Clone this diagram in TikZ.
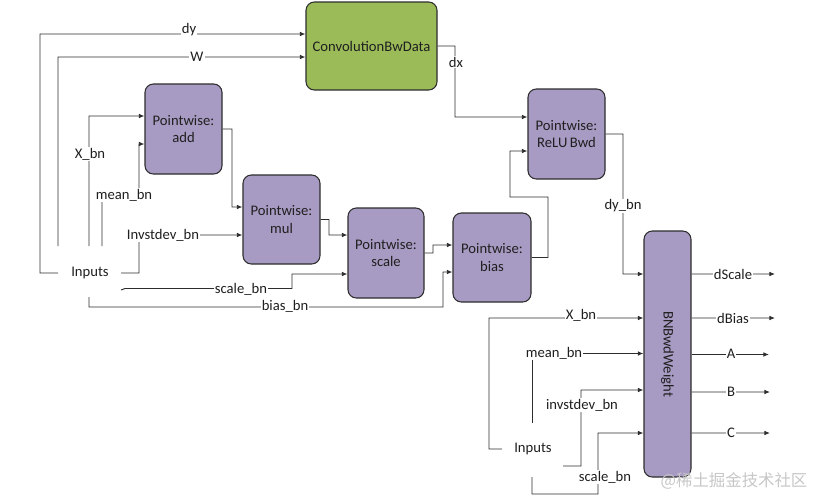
\documentclass[tikz,border=0pt]{standalone}
\usepackage{fontspec}
\setmainfont{Carlito}
\newfontfamily\cjk{Noto Sans CJK SC}
\usetikzlibrary{arrows.meta}
\definecolor{purp}{RGB}{168,155,195}
\definecolor{grn}{RGB}{155,187,89}
\definecolor{edge}{RGB}{45,45,45}
\begin{document}
\begin{tikzpicture}[x=0.03cm,y=-0.03cm,
  every node/.style={font=\fontsize{12.5}{15}\selectfont, text=black!88},
  line/.style={draw=edge, line width=0.8pt},
  arr/.style={line, -{Latex[length=1.7mm,width=1.4mm]}},
  pbox/.style={draw=edge, line width=0.9pt, fill=purp, rounded corners=2.5mm, align=center, inner sep=0pt},
  lbl/.style={fill=white, inner sep=1pt},
  plain/.style={inner sep=1pt},
]
\useasboundingbox (0,0) rectangle (816,496);

% boxes
\node[pbox, fill=grn, minimum width=3.93cm, minimum height=2.64cm] (conv) at (371.5,46) {ConvolutionBwData};
\node[pbox, minimum width=2.31cm, minimum height=2.7cm] (add) at (183.5,129) {Pointwise:\\add};
\node[pbox, minimum width=2.31cm, minimum height=2.67cm] (mul) at (281.5,219.5) {Pointwise:\\mul};
\node[pbox, minimum width=2.28cm, minimum height=2.7cm] (scale) at (386,253) {Pointwise:\\scale};
\node[pbox, minimum width=2.34cm, minimum height=2.67cm] (bias) at (492,257.5) {Pointwise:\\bias};
\node[pbox, minimum width=2.31cm, minimum height=2.7cm] (relu) at (566.5,134) {Pointwise:\\ReLU\,Bwd};
\node[pbox, minimum width=1.41cm, minimum height=7.38cm] (bn) at (667.5,354) {};
\node[rotate=-90] (bntext) at (bn.center) {BNBwdWeight};

% output end points
\coordinate (oS) at (775,274);
\coordinate (oBi) at (775,318);
\coordinate (oA) at (769,354.5);
\coordinate (oB) at (770,392);
\coordinate (oC) at (770,433);

% left inputs
\draw[arr] (58,273) -- (40,273) -- (40,34) -- ([yshift=0.36cm]conv.west);
\draw[arr] (58,246) -- (58,57) -- ([yshift=-0.33cm]conv.west);
\draw[arr] (89,246) -- (89,116) -- ([yshift=0.39cm]add.west);
\draw[arr] (102,246) -- (102,195) -- (139,195) -- (139,144) -- ([yshift=-0.45cm]add.west);
\draw[arr] (121,273) -- (139,273) -- (139,235) -- ([yshift=-0.465cm]mul.west);
\draw[arr] (121,290) -- (125,288.5) -- (292,288.5) -- (292,274) -- ([yshift=-0.63cm]scale.west);
\draw[arr] (89,297) -- (89,307) -- (443,307) -- (443,272) -- ([yshift=-0.435cm]bias.west);

% chain
\draw[arr] (add.east) -- (232,129) -- (232,207) -- ([yshift=0.375cm]mul.west);
\draw[arr] (mul.east) -- (329,219.5) -- (329,235) -- ([yshift=0.54cm]scale.west);
\draw[arr] (scale.east) -- (433,253) -- (433,245) -- ([yshift=0.375cm]bias.west);
\draw[arr] (bias.east) -- (548,257.5) -- (548,197) -- (510,197) -- (510,151) -- ([yshift=-0.51cm]relu.west);
\draw[arr] (conv.east) -- (455,46) -- (455,117) -- ([yshift=0.51cm]relu.west);
\draw[arr] (relu.east) -- (623,134) -- (623,274) -- ([yshift=2.4cm]bn.west);

% outputs
\draw[arr] ([yshift=2.4cm]bn.east) -- (oS);
\draw[arr] ([yshift=1.08cm]bn.east) -- (oBi);
\draw[arr] ([yshift=-0.015cm]bn.east) -- (oA);
\draw[arr] ([yshift=-1.14cm]bn.east) -- (oB);
\draw[arr] ([yshift=-2.37cm]bn.east) -- (oC);

% right inputs
\draw[arr] (502,449) -- (489,449) -- (489,318) -- ([yshift=1.08cm]bn.west);
\draw[arr] (532.5,423) -- (532.5,353.5) -- ([yshift=0.015cm]bn.west);
\draw[arr] (563,466) -- (581,466) -- (581,390) -- ([yshift=-1.08cm]bn.west);
\draw[arr] (532,477) -- (532,494) -- (598,494) -- (598,433) -- ([yshift=-2.37cm]bn.west);

% labels
\node[plain] (in1) at (90,273) {Inputs};
\node[plain] (in2) at (533,449) {Inputs};
\node[lbl] (ldy) at (189,30) {dy};
\node[lbl] (lw) at (197,57) {W};
\node[lbl] (lxbn) at (90,154) {X\_bn};
\node[lbl] (lmean) at (124,195) {mean\_bn};
\node[lbl] (linv) at (163,235) {Invstdev\_bn};
\node[lbl] (lscale) at (241,289) {scale\_bn};
\node[lbl] (lbias) at (285,306) {bias\_bn};
\node[lbl] (ldx) at (456,62) {dx};
\node[lbl] (ldybn) at (623,206) {dy\_bn};
\node[lbl] (ldS) at (733,274) {dScale};
\node[lbl] (ldB) at (733,318) {dBias};
\node[lbl] (lA) at (731,354) {A};
\node[lbl] (lB) at (731,392) {B};
\node[lbl] (lC) at (731,433) {C};
\node[lbl] (lxbn2) at (581,315) {X\_bn};
\node[lbl] (lmean2) at (554,353) {mean\_bn};
\node[lbl] (linv2) at (582,405) {invstdev\_bn};
\node[lbl] (lscale2) at (605,477) {scale\_bn};

% watermark
\node[text=black!22, font=\cjk\fontsize{14}{16}\selectfont] (wm) at (734,481) {@稀土掘金技术社区};
\end{tikzpicture}
\end{document}
